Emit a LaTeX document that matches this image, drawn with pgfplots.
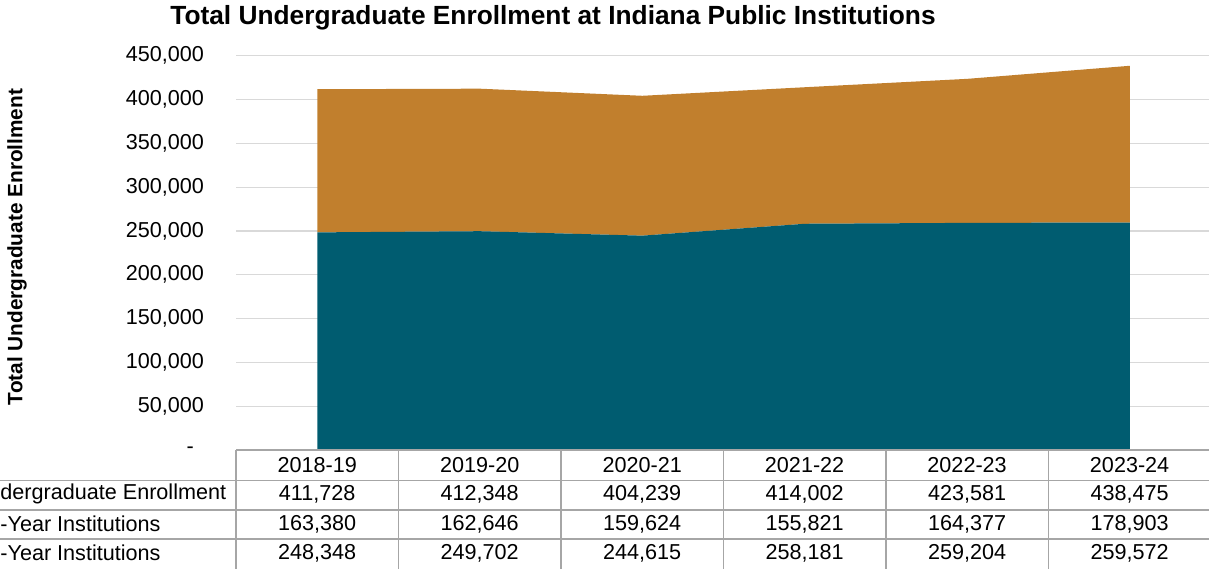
\documentclass[border=0pt]{standalone}
\usepackage{pgfplots}
\pgfplotsset{compat=1.18}
\usepackage{fontspec}
\setmainfont{Liberation Sans}
\definecolor{cOrange}{HTML}{C17F2D}
\definecolor{cTeal}{HTML}{005C70}
\definecolor{cGrid}{HTML}{D9D9D9}
\definecolor{cTable}{HTML}{A6A6A6}
\begin{document}
\begin{tikzpicture}[x=0.5pt,y=0.5pt]
\begin{axis}[
  at={(118pt,59pt)}, anchor=south west,
  scale only axis, width=487.5pt, height=197.15pt,
  xmin=-0.5, xmax=5.5, ymin=0, ymax=450000,
  axis line style={draw=none}, tick style={draw=none},
  xtick=\empty, scaled y ticks=false,
  ytick={0,50000,100000,150000,200000,250000,300000,350000,400000,450000},
  yticklabels={{-\rule{5pt}{0pt}},{50,000},{100,000},{150,000},{200,000},{250,000},{300,000},{350,000},{400,000},{450,000}},
  yticklabel style={font=\fontsize{10.8}{13}\selectfont, anchor=east, xshift=-12.5pt},
  ymajorgrids, major grid style={cGrid, line width=0.6pt},
  stack plots=y, clip=false, axis on top=false,
]
\addplot[fill=cTeal, draw=none] coordinates {(0,248348) (1,249702) (2,244615) (3,258181) (4,259204) (5,259572)} \closedcycle;
\addplot[fill=cOrange, draw=none] coordinates {(0,163380) (1,162646) (2,159624) (3,155821) (4,164377) (5,178903)} \closedcycle;
\end{axis}
% title and y label
\node[font=\fontsize{13.15}{16}\selectfont\bfseries] at (553,550) {Total Undergraduate Enrollment at Indiana Public Institutions};
\node[font=\fontsize{10.4}{12}\selectfont\bfseries, rotate=90] at (17,321) {Total Undergraduate Enrollment};
% data table grid
\begin{scope}[draw=cTable, line width=0.75pt]
\draw (236,118) -- (1215,118);
\foreach \yy in {87.5,58,29} {\draw (-5,\yy) -- (1215,\yy);}
\foreach \xx in {236,398.5,561,723.4,885.9,1048.4} {\draw (\xx,118) -- (\xx,-5);}
\end{scope}
\begin{scope}[font=\fontsize{10.8}{13}\selectfont]
\node[anchor=west, inner sep=0pt] at (0,74) {dergraduate Enrollment};
\node[anchor=west, inner sep=0pt] at (0,44) {-Year Institutions};
\node[anchor=west, inner sep=0pt] at (0,15) {-Year Institutions};
\foreach \xx/\a/\b/\c/\d in {317.2/2018-19/{411,728}/{163,380}/{248,348},
  479.7/2019-20/{412,348}/{162,646}/{249,702},
  642.2/2020-21/{404,239}/{159,624}/{244,615},
  804.6/2021-22/{414,002}/{155,821}/{258,181},
  967.1/2022-23/{423,581}/{164,377}/{259,204},
  1129.6/2023-24/{438,475}/{178,903}/{259,572}} {
  \node at (\xx,103) {\a};
  \node at (\xx,74) {\b};
  \node at (\xx,44) {\c};
  \node at (\xx,15) {\d};
}
\end{scope}
\pgfresetboundingbox
\useasboundingbox (0,0) rectangle (1209,568);
\end{tikzpicture}
\end{document}
